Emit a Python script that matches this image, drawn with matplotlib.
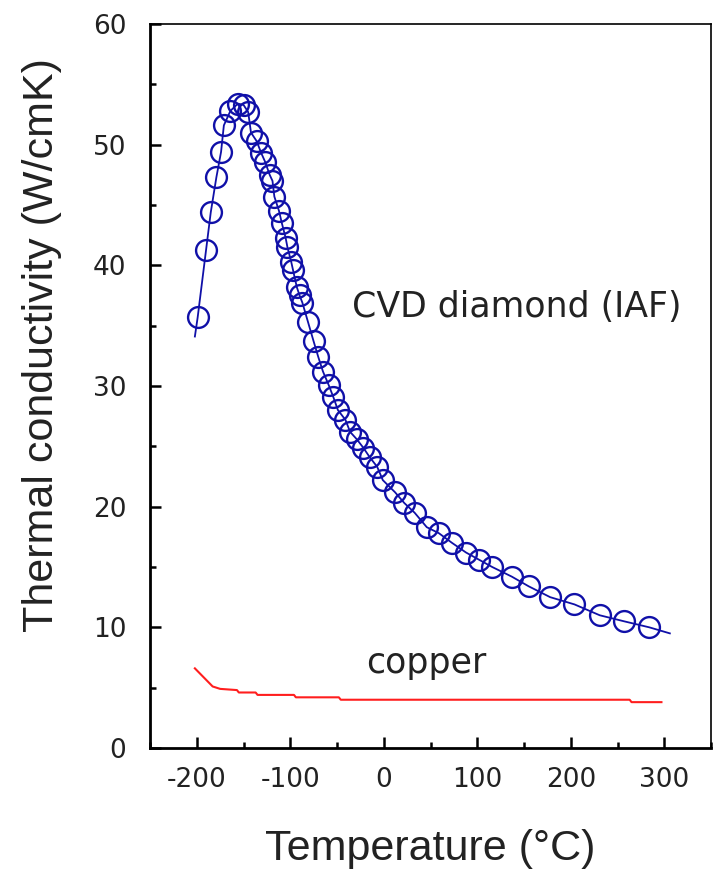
import matplotlib
matplotlib.use("Agg")
import matplotlib.pyplot as plt
from matplotlib.ticker import MultipleLocator

# CVD diamond measured points (temperature in C, conductivity in W/cmK)
diamond_t = [-199, -190, -185, -179, -174, -171, -164, -156, -150, -145,
             -142, -136, -131, -127, -122, -119, -117, -112, -109, -105,
             -103, -99, -97, -93, -90, -87, -81, -75, -70, -65,
             -59, -54, -49, -41, -36, -29, -22, -15, -7, -1,
             12, 22, 33, 46, 59, 73, 88, 102, 116, 137,
             155, 178, 204, 231, 257, 284]
diamond_k = [35.7, 41.3, 44.4, 47.3, 49.4, 51.6, 52.8, 53.4, 53.3, 52.7,
             51.0, 50.3, 49.3, 48.6, 47.5, 47.0, 45.7, 44.5, 43.5, 42.3,
             41.5, 40.3, 39.6, 38.2, 37.5, 36.9, 35.3, 33.7, 32.4, 31.2,
             30.1, 29.1, 28.0, 27.2, 26.2, 25.6, 24.9, 24.1, 23.3, 22.2,
             21.2, 20.3, 19.5, 18.3, 17.8, 17.0, 16.2, 15.6, 15.0, 14.2,
             13.4, 12.5, 11.9, 11.0, 10.5, 10.0]

# ends of the drawn guide line beyond the first/last points
line_start = (-202, 34.1)
line_end = (306, 9.5)

# copper reference line
copper_t = [-202, -183, -175, -157, -155, -137, -135, -96, -94, -48, -46, 263, 265, 297]
copper_k = [6.6, 5.1, 4.9, 4.8, 4.6, 4.6, 4.4, 4.4, 4.2, 4.2, 4.0, 4.0, 3.8, 3.8]

BLUE = "#1010a8"
RED = "#ff1e1e"
TEXT = "#222222"

plt.rcParams["axes.unicode_minus"] = False

fig = plt.figure(figsize=(7.13, 8.72), dpi=100)
ax = fig.add_axes([150 / 713, 124 / 872, 561 / 713, 724 / 872])

line_t = [line_start[0]] + diamond_t + [line_end[0]]
line_k = [line_start[1]] + diamond_k + [line_end[1]]
ax.plot(line_t, line_k, color=BLUE, lw=1.3, zorder=2)
ax.plot(diamond_t, diamond_k, ls="none", marker="o", ms=15, mfc="none",
        mec=BLUE, mew=1.7, zorder=3)
ax.plot(copper_t, copper_k, color=RED, lw=1.5, zorder=2)

ax.set_xlim(-250, 350)
ax.set_ylim(0, 60)
ax.xaxis.set_major_locator(MultipleLocator(100))
ax.xaxis.set_minor_locator(MultipleLocator(50))
ax.yaxis.set_major_locator(MultipleLocator(10))
ax.yaxis.set_minor_locator(MultipleLocator(5))

for side in ("left", "bottom"):
    ax.spines[side].set_linewidth(2.0)
for side in ("top", "right"):
    ax.spines[side].set_linewidth(1.2)

ax.tick_params(which="both", direction="in", top=False, right=False, width=1.8)
ax.tick_params(which="major", length=8)
ax.tick_params(which="minor", length=4)
ax.tick_params(axis="x", which="major", pad=14, labelsize=19)
ax.tick_params(axis="y", which="major", pad=17, labelsize=19)
for lab in ax.get_xticklabels() + ax.get_yticklabels():
    lab.set_family("DejaVu Sans")
    lab.set_color(TEXT)

ax.text(-34, 35.7, "CVD diamond (IAF)", fontsize=25, family="DejaVu Sans",
        color=TEXT, ha="left", va="baseline")
ax.text(-19, 6.2, "copper", fontsize=25, family="DejaVu Sans",
        color=TEXT, ha="left", va="baseline")

fig.text(42 / 713, 1 - 345 / 872, "Thermal conductivity (W/cmK)", rotation=90,
         fontsize=31, family="Liberation Sans", color=TEXT,
         ha="center", va="center")
fig.text(430 / 713, 1 - 849 / 872, "Temperature (\u00b0C)",
         fontsize=31, family="Liberation Sans", color=TEXT,
         ha="center", va="center")

fig.savefig("out.png", dpi=100)
